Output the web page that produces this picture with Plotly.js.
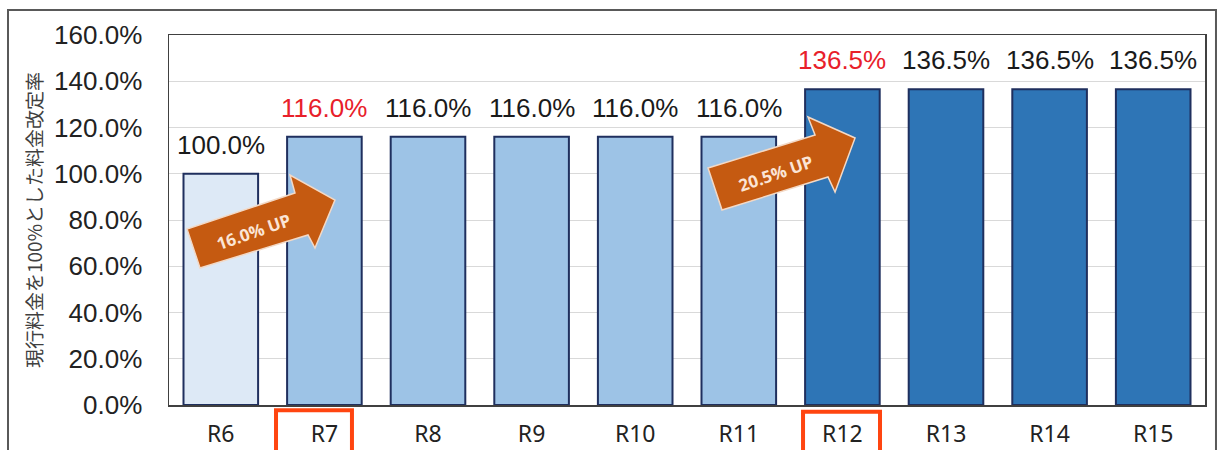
<!DOCTYPE html>
<html>
<head>
<meta charset="utf-8">
<script src="https://cdn.plot.ly/plotly-3.0.1.min.js"></script>
<style>html,body{margin:0;padding:0;background:#fff;}#chart{width:1217px;height:450px;}</style>
</head>
<body>
<div id="chart"></div>
<script>
var categories = ["R6","R7","R8","R9","R10","R11","R12","R13","R14","R15"];
var values = [100.0, 116.0, 116.0, 116.0, 116.0, 116.0, 136.5, 136.5, 136.5, 136.5];
var labels = ["100.0%","116.0%","116.0%","116.0%","116.0%","116.0%","136.5%","136.5%","136.5%","136.5%"];
var labelColors = ["#1a1a1a","#e8202a","#1a1a1a","#1a1a1a","#1a1a1a","#1a1a1a","#e8202a","#1a1a1a","#1a1a1a","#1a1a1a"];
var barColors = ["#dde9f6","#9dc3e6","#9dc3e6","#9dc3e6","#9dc3e6","#9dc3e6","#2e75b6","#2e75b6","#2e75b6","#2e75b6"];
var tickVals = [0,20,40,60,80,100,120,140,160];
var tickText = ["0.0%","20.0%","40.0%","60.0%","80.0%","100.0%","120.0%","140.0%","160.0%"];
var upLabels = ["16.0% UP","20.5% UP"];
var yTitle = "現行料金を100%とした料金改定率";

var numFont = "'Liberation Sans', Arial, sans-serif";

var trace = {
  type: "bar",
  x: categories,
  y: values,
  marker: {color: barColors, line: {color: "#1f2f5e", width: 2}},
  hoverinfo: "none"
};

var annotations = categories.map(function(c, i){
  return {x: c, y: values[i], xref: "x", yref: "y", text: labels[i], showarrow: false,
          xanchor: "center", yanchor: "bottom", yshift: 12, font: {family: numFont, size: 26, color: labelColors[i]}};
});
annotations.push({xref:"paper", yref:"paper", x:0.082, y:0.468, xanchor:"center", yanchor:"middle", text:"<b>"+upLabels[0]+"</b>", showarrow:false, textangle:-19,
  font:{family:"'Open Sans', 'Noto Sans', sans-serif", size:17, color:"#fbe5d6"}});
annotations.push({xref:"paper", yref:"paper", x:0.585, y:0.627, xanchor:"center", yanchor:"middle", text:"<b>"+upLabels[1]+"</b>", showarrow:false, textangle:-19,
  font:{family:"'Open Sans', 'Noto Sans', sans-serif", size:17, color:"#fbe5d6"}});

function arrowPath(p){
  return "M" + p.map(function(q){return q[0]+","+q[1];}).join(" L") + " Z";
}
var arrow1 = [[0.01737,0.4757],[0.1216,0.5730],[0.1168,0.6216],[0.1602,0.5541],[0.1409,0.4243],[0.1342,0.4595],[0.02992,0.3703]];
var arrow2 = [[0.5203,0.6405],[0.6236,0.7297],[0.6168,0.7784],[0.6622,0.7216],[0.6429,0.5757],[0.6361,0.6162],[0.5338,0.5270]];

var shapes = [
  {type:"path", xref:"paper", yref:"paper", path: arrowPath(arrow1), fillcolor:"#c55a11", line:{color:"#f3d9c6", width:1.5}},
  {type:"path", xref:"paper", yref:"paper", path: arrowPath(arrow2), fillcolor:"#c55a11", line:{color:"#f3d9c6", width:1.5}},
  {type:"rect", xref:"paper", yref:"paper", x0:0.1033, x1:0.1766, y0:-0.25, y1:-0.014, line:{color:"#ff4510", width:4}},
  {type:"rect", xref:"paper", yref:"paper", x0:0.6120, x1:0.6863, y0:-0.25, y1:-0.018, line:{color:"#ff4510", width:4}},
  {type:"rect", xref:"paper", yref:"paper", x0:-0.1554, x1:1.0106, y0:-0.2, y1:1.0676, line:{color:"#595959", width:2}}
];

var layout = {
  width: 1217, height: 450,
  margin: {l: 169, r: 12, t: 35, b: 45},
  paper_bgcolor: "#ffffff", plot_bgcolor: "#ffffff",
  showlegend: false,
  bargap: 0.28,
  xaxis: {
    type: "category",
    showline: true, mirror: true, linecolor: "#404040", linewidth: 1.5,
    ticks: "", ticklabelstandoff: 8,
    tickfont: {family: "'Noto Sans', 'Open Sans', sans-serif", size: 23, color: "#222"},
    fixedrange: true
  },
  yaxis: {
    range: [0, 160],
    tickvals: tickVals, ticktext: tickText,
    showgrid: true, gridcolor: "#d9d9d9", gridwidth: 1,
    showline: true, mirror: true, linecolor: "#404040", linewidth: 1.5,
    zeroline: false,
    ticks: "", ticklabelstandoff: 20,
    tickfont: {family: numFont, size: 26, color: "#222"},
    title: {text: yTitle, standoff: 6, font: {family: "'Noto Sans CJK JP', sans-serif", size: 19, color: "#404040"}},
    fixedrange: true
  },
  annotations: annotations,
  shapes: shapes
};

Plotly.newPlot("chart", [trace], layout, {displayModeBar: false, staticPlot: true});
</script>
</body>
</html>
